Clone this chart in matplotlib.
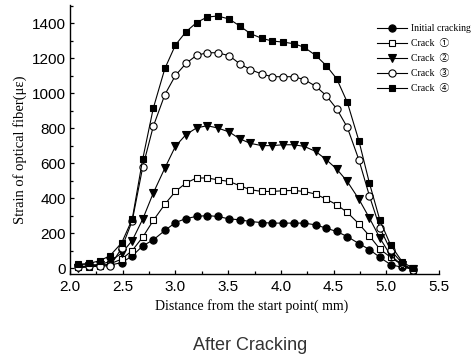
import matplotlib
matplotlib.use("Agg")
import matplotlib.pyplot as plt
from matplotlib.ticker import MultipleLocator, FormatStrFormatter

x = [2.08, 2.18, 2.28, 2.38, 2.49, 2.59, 2.69, 2.79, 2.90, 3.00, 3.10, 3.20,
     3.30, 3.40, 3.51, 3.61, 3.71, 3.82, 3.92, 4.02, 4.12, 4.22, 4.33, 4.43,
     4.53, 4.63, 4.74, 4.84, 4.94, 5.04, 5.15, 5.25]

initial = [20, 20, 20, 18, 32, 70, 128, 162, 216, 261, 284, 296, 301, 296, 282, 277,
           267, 261, 258, 258, 258, 258, 248, 229, 210, 181, 141, 107, 62, 21, 5, -4]
crack1 = [5, 8, 12, 25, 52, 101, 178, 273, 366, 439, 487, 516, 516, 506, 496, 472,
          449, 439, 439, 443, 445, 439, 424, 395, 363, 319, 254, 185, 109, 63, 19, -8]
crack2 = [2, 10, 18, 40, 86, 158, 281, 430, 573, 697, 764, 802, 815, 802, 779, 740,
          714, 701, 701, 706, 706, 697, 668, 621, 567, 496, 395, 287, 172, 74, 19, -6]
crack3 = [8, 12, 15, 12, 115, 270, 579, 811, 993, 1102, 1171, 1217, 1232, 1232, 1215, 1169,
          1136, 1110, 1095, 1095, 1095, 1079, 1041, 987, 911, 806, 620, 414, 229, 105, 29, -10]
crack4 = [22, 28, 42, 72, 145, 280, 625, 915, 1142, 1276, 1352, 1404, 1436, 1442, 1425, 1385,
          1342, 1314, 1299, 1293, 1284, 1264, 1217, 1159, 1083, 949, 729, 487, 273, 134, 38, 0]

labels = ["Initial cracking", "Crack  \u2460", "Crack  \u2461", "Crack  \u2462", "Crack  \u2463"]
series = [initial, crack1, crack2, crack3, crack4]
markers = ["o", "s", "v", "o", "s"]
faces = ["black", "white", "black", "white", "black"]
msizes = [5.2, 4.8, 5.4, 5.2, 4.8]

W, H = 472, 358
fig = plt.figure(figsize=(W / 100, H / 100), dpi=100)
ax = fig.add_axes([70 / W, 1 - 274 / H, (439 - 70) / W, (274 - 5) / H])

handles = []
for ys, m, fc, ms, lab in zip(series, markers, faces, msizes, labels):
    h, = ax.plot(x, ys, color="black", lw=0.8, marker=m, markerfacecolor=fc,
                 markeredgecolor="black", markeredgewidth=0.8, markersize=ms, label=lab)
    handles.append(h)

ax.set_xlim(2.0, 5.5)
ax.set_ylim(-33, 1505)
ax.xaxis.set_major_locator(MultipleLocator(0.5))
ax.xaxis.set_minor_locator(MultipleLocator(0.25))
ax.xaxis.set_major_formatter(FormatStrFormatter("%.1f"))
ax.yaxis.set_major_locator(MultipleLocator(200))
ax.yaxis.set_minor_locator(MultipleLocator(100))
ax.spines["top"].set_visible(False)
ax.spines["right"].set_visible(False)
for s in ("left", "bottom"):
    ax.spines[s].set_linewidth(1.0)
ax.tick_params(which="both", direction="in", width=0.9)
ax.tick_params(which="major", length=3.2, labelsize=11)
ax.tick_params(axis="x", which="major", pad=4)
ax.tick_params(axis="y", which="major", pad=3)
ax.tick_params(which="minor", length=2)
for t in ax.get_xticklabels() + ax.get_yticklabels():
    t.set_fontfamily("Liberation Sans")

fig.text(252 / W, 1 - 306 / H, "Distance from the start point( mm)", ha="center", va="center",
         fontfamily="Liberation Serif", fontsize=10)
fig.text(20 / W, 1 - 150 / H, "Strain of optical fiber(\u03bc\u03b5)", ha="center", va="center",
         rotation=90, fontfamily="Liberation Serif", fontsize=10.5)

leg = fig.legend(handles=handles, loc="upper left", bbox_to_anchor=(377 / W, 1 - 24 / H),
                 frameon=False, borderpad=0, borderaxespad=0, handlelength=3.1,
                 handletextpad=0.4, labelspacing=0.62,
                 prop={"family": ["Liberation Serif", "Noto Sans CJK SC"], "size": 7})

fig.text(250 / W, 1 - 345 / H, "After Cracking", ha="center", va="center",
         fontfamily="Liberation Sans", fontsize=13, color="#333333")

fig.savefig("out.png", dpi=100)
